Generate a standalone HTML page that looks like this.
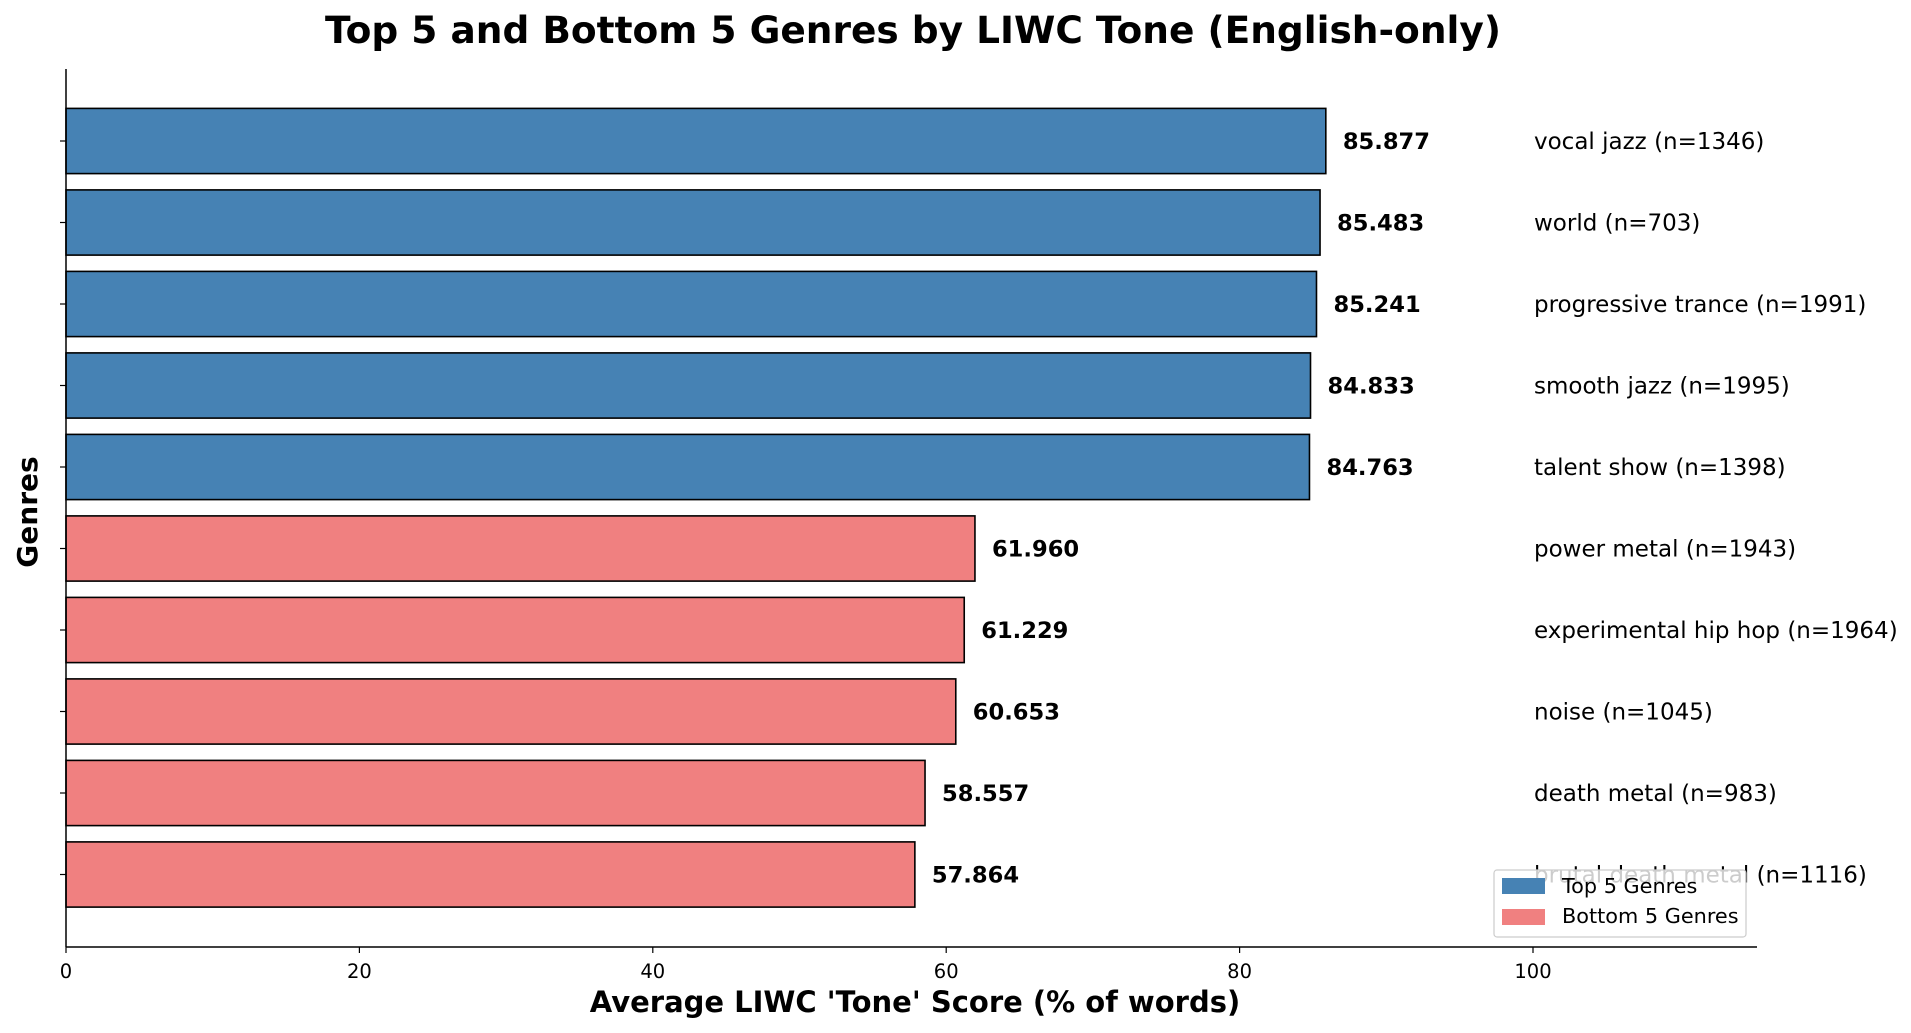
<!DOCTYPE html>
<html><head><meta charset="utf-8"><style>
html,body{margin:0;padding:0;background:#fff;}
svg{display:block;font-family:"DejaVu Sans","Liberation Sans",sans-serif;}
</style></head><body>
<svg id="chart" width="1911" height="1033" viewBox="0 0 1911 1033">
<text x="913" y="43" text-anchor="middle" font-size="37.5" font-weight="bold">Top 5 and Bottom 5 Genres by LIWC Tone (English-only)</text>
<g id="plot"></g>
<text x="915" y="1012" text-anchor="middle" font-size="29" font-weight="bold">Average LIWC 'Tone' Score (% of words)</text>
<text transform="translate(37,512) rotate(-90)" text-anchor="middle" font-size="28" font-weight="bold">Genres</text>
</svg>
<script>
const genres = ["vocal jazz","world","progressive trance","smooth jazz","talent show","power metal","experimental hip hop","noise","death metal","brutal death metal"];
const counts = [1346,703,1991,1995,1398,1943,1964,1045,983,1116];
const values = [85.877,85.483,85.241,84.833,84.763,61.960,61.229,60.653,58.557,57.864];
const groups = ["top","top","top","top","top","bottom","bottom","bottom","bottom","bottom"];
const xTicks = [0,20,40,60,80,100];

const NS="http://www.w3.org/2000/svg";
const g=document.getElementById('plot');
const X0=66, PX=14.67, AXT=69, AXB=947, AXR=1757, Y0=141, STEP=81.5, BH=65.2;
const xs=v=>X0+v*PX;
const ys=i=>Y0+i*STEP;
function mk(t,a){const e=document.createElementNS(NS,t);for(const k in a)e.setAttribute(k,a[k]);g.appendChild(e);return e;}
const col={top:"#4682b4",bottom:"#f08080"};
values.forEach((v,i)=>{
  const r=mk('rect',{x:xs(0),y:ys(i)-BH/2,width:xs(v)-xs(0),height:BH,fill:col[groups[i]],stroke:"#000","stroke-width":1.6});
  
  
  const t=mk('text',{x:xs(v)+17,y:ys(i)+8,"font-size":22.6,"font-weight":"bold"});
  t.textContent=v.toFixed(3);
  
  
  const l=mk('text',{x:xs(100)+1,y:ys(i)+8,"font-size":23});
  l.textContent=genres[i]+" (n="+counts[i]+")";
  
  
  const tk=mk('line',{x1:X0-6,x2:X0,y1:ys(i),y2:ys(i),stroke:"#000","stroke-width":1.2});
  
  
});
xTicks.forEach(v=>{
  const tk=mk('line',{x1:xs(v),x2:xs(v),y1:AXB,y2:AXB+6,stroke:"#000","stroke-width":1.2});
  
  
  const t=mk('text',{x:xs(v),y:AXB+31,"font-size":19.5,"text-anchor":"middle"});
  t.textContent=v;
  
  
});
const ax=mk('line',{x1:X0,x2:X0,y1:AXT,y2:AXB,stroke:"#000","stroke-width":1.5});


const bx=mk('line',{x1:X0,x2:AXR,y1:AXB,y2:AXB,stroke:"#000","stroke-width":1.5});


// legend
const lg=mk('rect',{x:1494,y:870,width:252,height:67,rx:3,fill:"#fff","fill-opacity":0.8,stroke:"#ccc","stroke-width":1.2});


[["Top 5 Genres","top",878,893],["Bottom 5 Genres","bottom",909,923]].forEach(d=>{
  const s=mk('rect',{x:1502,y:d[2],width:43,height:16,fill:col[d[1]]});
  
  
  const t=mk('text',{x:1562,y:d[3],"font-size":20.8});
  t.textContent=d[0];
  
  
});
</script>
</body></html>
